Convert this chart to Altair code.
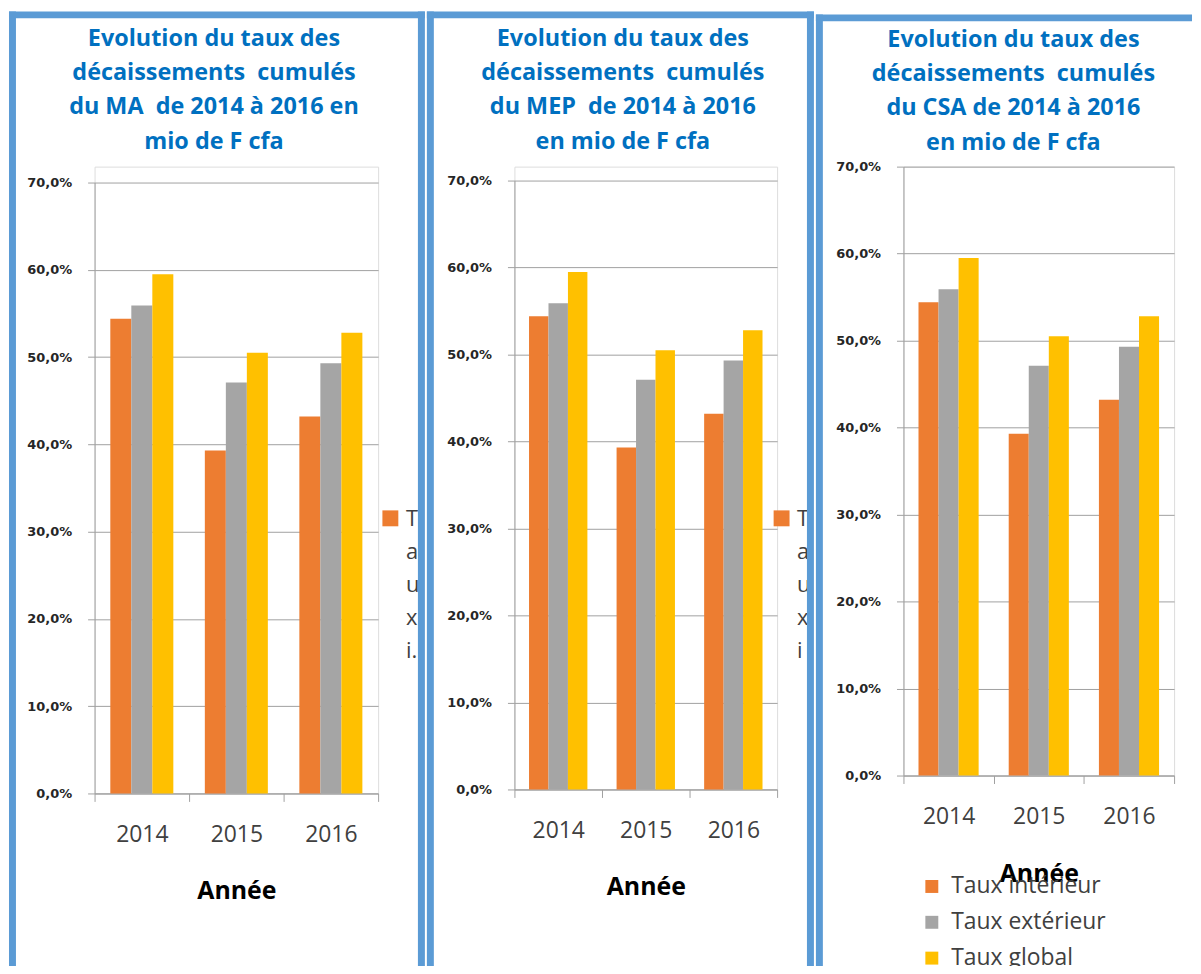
import altair as alt
import pandas as pd

# ---- data ----
years = ["2014", "2015", "2016"]
series_names = ["Taux intérieur", "Taux extérieur", "Taux global"]
taux_interieur = [54.4, 39.3, 43.2]
taux_exterieur = [55.9, 47.1, 49.3]
taux_global = [59.5, 50.5, 52.8]
series_colors = ["#ED7D31", "#A5A5A5", "#FFC000"]
y_ticks = [0, 10, 20, 30, 40, 50, 60, 70]

title_ma = ["Evolution du taux des", "décaissements \u00a0cumulés", "du MA \u00a0de 2014 à 2016 en", "mio de F cfa"]
title_mep = ["Evolution du taux des", "décaissements \u00a0cumulés", "du MEP \u00a0de 2014 à 2016", "en mio de F cfa"]
title_csa = ["Evolution du taux des", "décaissements \u00a0cumulés", "du CSA de 2014 à 2016", "en mio de F cfa"]
legend_stub_ma = ["T", "a", "u", "x", "i."]
legend_stub_mep = ["T", "a", "u", "x", "i"]

rows = []
for name, vals in zip(series_names, [taux_interieur, taux_exterieur, taux_global]):
    for yr, v in zip(years, vals):
        rows.append({"Année": yr, "Série": name, "Taux": v})
df = pd.DataFrame(rows)
one = pd.DataFrame({"k": [0]})

FRAME = "#5B9BD5"
FW = 7
GRID = "#A0A0A0"
TXT = "#404040"
BOTTOM = 808


def band(x, x2, y, y2):
    return alt.Chart(one).mark_rect(color=FRAME).encode(
        x=alt.value(x), x2=alt.value(x2), y=alt.value(y), y2=alt.value(y2))


def frame(left, top, right=None, top_end=None):
    # left, top, right: outer edges of the blue border (pixels from plot origin)
    out = [band(left, left + FW, top, BOTTOM)]
    if right is not None:
        out.append(band(left, right, top, top + FW))
        out.append(band(right - FW, right, top, BOTTOM))
    else:
        out.append(band(left, top_end, top, top + FW))
    return out


def bars(width, height, top, show_legend):
    if show_legend:
        legend = alt.Legend(orient="none", legendX=17, legendY=712, title=None,
                            symbolType="square", symbolSize=169, symbolStrokeWidth=0,
                            labelFont="Open Sans", labelFontSize=23, labelColor=TXT,
                            labelLimit=400, rowPadding=12, labelOffset=8, padding=0)
    else:
        legend = None
    return alt.Chart(df).mark_bar().encode(
        x=alt.X("Année:N", sort=years,
                scale=alt.Scale(paddingInner=0, paddingOuter=0),
                axis=alt.Axis(title="Année", tickBand="extent", tickSize=8, tickColor=GRID,
                              domainColor=GRID, labelFont="Open Sans", labelFontSize=23,
                              labelColor=TXT, labelPadding=22, labelAngle=0,
                              titleFont="Open Sans", titleFontSize=25, titleFontWeight="bold",
                              titleColor="#000000", titlePadding=33)),
        xOffset=alt.XOffset("Série:N", sort=series_names,
                            scale=alt.Scale(paddingInner=0, paddingOuter=0.75)),
        y=alt.Y("Taux:Q",
                scale=alt.Scale(domain=[0, 70], range=[height, top], nice=False),
                axis=alt.Axis(title=None, values=y_ticks,
                              labelExpr="replace(format(datum.value, '.1f'), '.', ',') + '%'",
                              grid=True, gridColor=GRID, tickColor=GRID, tickSize=7,
                              domainColor=GRID, labelFont="DejaVu Sans", labelFontSize=13,
                              labelFontWeight="bold", labelColor="#262626", labelPadding=16)),
        color=alt.Color("Série:N", sort=series_names,
                        scale=alt.Scale(domain=series_names, range=series_colors),
                        legend=legend),
    )


def title_text(lines, cx, y0=-128, lh=34.3):
    out = []
    for i, line in enumerate(lines):
        out.append(alt.Chart(one).mark_text(
            font="Open Sans", fontSize=23.5, fontWeight="bold", color="#0070C0",
            baseline="middle", align="center"
        ).encode(x=alt.value(cx), y=alt.value(y0 + i * lh), text=alt.value(line)))
    return out


def stub(letters, sx, tx, y0=354, lh=33.3):
    out = [alt.Chart(one).mark_square(size=256, color="#ED7D31", opacity=1, filled=True).encode(
        x=alt.value(sx), y=alt.value(353.5))]
    for i, ch in enumerate(letters):
        out.append(alt.Chart(one).mark_text(
            font="Open Sans", fontSize=22, color=TXT, align="left", baseline="middle"
        ).encode(x=alt.value(tx), y=alt.value(y0 + i * lh), text=alt.value(ch)))
    return out


p1 = alt.layer(
    bars(285, 630, 16, False), *title_text(title_ma, 120),
    *stub(legend_stub_ma, 297.3, 313),
    *frame(-86, -156, right=332),
).properties(width=285, height=630)

p2 = alt.layer(
    bars(264, 626, 14, False), *title_text(title_mep, 109),
    *stub(legend_stub_mep, 268.5, 284),
    *frame(-88, -156, right=301),
).properties(width=264, height=626)

p3 = alt.layer(
    bars(272, 612, 0, True), *title_text(title_csa, 110.5, y0=-127),
    *frame(-88, -153, top_end=290),
).properties(width=272, height=612)

chart = alt.hconcat(p1, p2, p3, spacing=0).resolve_scale(
    x="independent", y="independent", color="independent", xOffset="independent"
).properties(
    padding={"left": 0, "top": 0, "right": 0, "bottom": -8}
).configure_view(stroke="transparent").configure(background="white")

chart.save("out.html", embed_options={"renderer": "svg", "actions": False})
